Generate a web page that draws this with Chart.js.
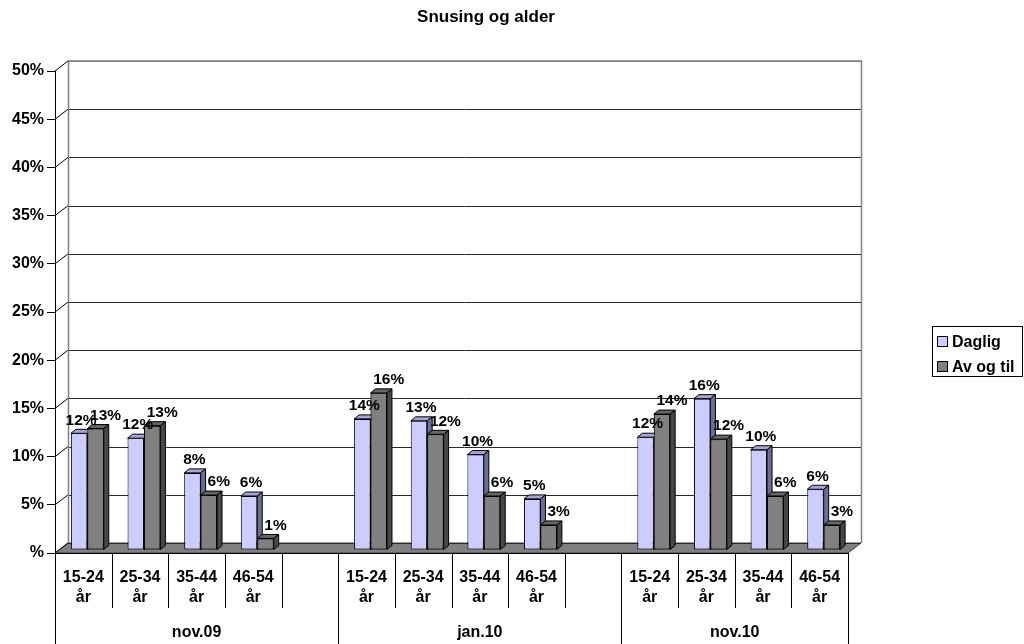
<!DOCTYPE html>
<html>
<head>
<meta charset="utf-8">
<title>Snusing og alder</title>
<script src="https://cdn.jsdelivr.net/npm/chart.js@4.4.1/dist/chart.umd.min.js"></script>
<style>
  html, body { margin: 0; padding: 0; background: #fff; }
  canvas { display: block; }
</style>
</head>
<body>
<canvas id="c" width="1024" height="644"></canvas>
<script>
// ---- data ----
const chartTitle = 'Snusing og alder';
const periods = ['nov.09', 'jan.10', 'nov.10'];
const ageBands = ['15-24 år', '25-34 år', '35-44 år', '46-54 år'];
const seriesNames = ['Daglig', 'Av og til'];
// share per age band, listed period by period
const daglig = [12.1, 11.6, 8.0, 5.6, 13.6, 13.4, 9.9, 5.3, 11.7, 15.7, 10.4, 6.3];
const avOgTil = [12.6, 12.9, 5.7, 1.2, 16.3, 12.0, 5.6, 2.6, 14.1, 11.5, 5.6, 2.6];
const yTickStep = 5;
const yMax = 50;

// ---- category layout: an empty slot after each period except the last ----
const categories = [];
const dagligSlots = [];
const avOgTilSlots = [];
const periodStarts = [];
periods.forEach((p, pi) => {
  periodStarts.push(categories.length);
  ageBands.forEach((a, ai) => {
    categories.push(a);
    dagligSlots.push(daglig[pi * ageBands.length + ai]);
    avOgTilSlots.push(avOgTil[pi * ageBands.length + ai]);
  });
  if (pi < periods.length - 1) {
    categories.push('');
    dagligSlots.push(null);
    avOgTilSlots.push(null);
  }
});

// ---- look ----
const FONT = '"Liberation Sans", Arial, Helvetica, sans-serif';
const faces = [
  { front: '#CCCCFF', top: '#A4A4D8', side: '#6B6B9C' },
  { front: '#808080', top: '#666666', side: '#474747' }
];
const WALL_DX = 13, WALL_DY = -10;   // depth of the back wall
const BAR_SHIFT_X = 4, BAR_SHIFT_Y = -3; // columns stand mid-depth
const BAR_DX = 5, BAR_DY = -4;       // column thickness

function px(v) { return Math.round(v) + 0.5; }

function drawBarFaces(ctx, el, f) {
  const p = el.getProps(['x', 'y', 'base', 'width'], true);
  if (!isFinite(p.y)) return;
  const l = p.x - p.width / 2, r = p.x + p.width / 2;
  ctx.lineWidth = 1;
  ctx.strokeStyle = '#000';
  // top
  ctx.beginPath();
  ctx.moveTo(l, p.y);
  ctx.lineTo(r, p.y);
  ctx.lineTo(r + BAR_DX, p.y + BAR_DY);
  ctx.lineTo(l + BAR_DX, p.y + BAR_DY);
  ctx.closePath();
  ctx.fillStyle = f.top;
  ctx.fill();
  ctx.stroke();
  // right side
  ctx.beginPath();
  ctx.moveTo(r, p.y);
  ctx.lineTo(r + BAR_DX, p.y + BAR_DY);
  ctx.lineTo(r + BAR_DX, p.base + BAR_DY);
  ctx.lineTo(r, p.base);
  ctx.closePath();
  ctx.fillStyle = f.side;
  ctx.fill();
  ctx.stroke();
}

const scenePlugin = {
  id: 'scene',
  beforeDatasetsDraw(chart) {
    const { ctx, chartArea: a, scales: { y } } = chart;
    const y0 = y.getPixelForValue(0);
    const yTop = y.getPixelForValue(yMax);
    ctx.save();
    // floor
    ctx.beginPath();
    ctx.moveTo(a.left, y0);
    ctx.lineTo(a.right, y0);
    ctx.lineTo(a.right + WALL_DX, y0 + WALL_DY);
    ctx.lineTo(a.left + WALL_DX, y0 + WALL_DY);
    ctx.closePath();
    ctx.fillStyle = '#808080';
    ctx.fill();
    ctx.strokeStyle = '#404040';
    ctx.lineWidth = 1;
    ctx.stroke();
    // back wall grid and the slanted links to the axis
    for (let v = 0; v <= yMax; v += yTickStep) {
      const yf = y.getPixelForValue(v);
      const yb = px(yf + WALL_DY);
      ctx.strokeStyle = v === yMax ? '#808080' : '#2a2a2a';
      ctx.beginPath();
      ctx.moveTo(a.left + WALL_DX, yb);
      ctx.lineTo(a.right + WALL_DX, yb);
      ctx.stroke();
      ctx.strokeStyle = '#000';
      ctx.beginPath();
      ctx.moveTo(a.left, yf);
      ctx.lineTo(a.left + WALL_DX, yf + WALL_DY);
      ctx.stroke();
    }
    // wall edges
    ctx.strokeStyle = '#808080';
    ctx.lineWidth = 1.5;
    ctx.beginPath();
    ctx.moveTo(px(a.left + WALL_DX), y0 + WALL_DY);
    ctx.lineTo(px(a.left + WALL_DX), yTop + WALL_DY);
    ctx.lineTo(px(a.right + WALL_DX), yTop + WALL_DY);
    ctx.lineTo(px(a.right + WALL_DX), y0 + WALL_DY);
    ctx.stroke();
    ctx.restore();
    // columns are drawn a little behind the front plane
    ctx.save();
    ctx.translate(BAR_SHIFT_X, BAR_SHIFT_Y);
  },
  afterDatasetsDraw(chart) {
    const { ctx } = chart;
    const m0 = chart.getDatasetMeta(0);
    const m1 = chart.getDatasetMeta(1);
    for (let i = 0; i < categories.length; i++) {
      if (dagligSlots[i] == null) continue;
      drawBarFaces(ctx, m0.data[i], faces[0]);
      m1.data[i].draw(ctx);
      drawBarFaces(ctx, m1.data[i], faces[1]);
    }
    ctx.restore();

    // value labels
    ctx.save();
    ctx.font = 'bold 15.5px ' + FONT;
    ctx.fillStyle = '#000';
    ctx.textAlign = 'center';
    ctx.textBaseline = 'middle';
    [m0, m1].forEach((meta, di) => {
      const vals = di === 0 ? dagligSlots : avOgTilSlots;
      meta.data.forEach((el, i) => {
        const v = vals[i];
        if (v == null) return;
        const p = el.getProps(['x', 'y'], true);
        const lx = p.x + BAR_SHIFT_X + (di === 0 ? 2 : 10);
        const ly = p.y + BAR_SHIFT_Y - 13;
        ctx.fillText(Math.round(v) + '%', lx, ly);
      });
    });
    ctx.restore();
  },
  afterDraw(chart) {
    const { ctx, chartArea: a, scales: { x } } = chart;
    const n = categories.length;
    const half = (x.getPixelForValue(1) - x.getPixelForValue(0)) / 2;
    const edge = i => (i < n ? x.getPixelForValue(i) - half : x.getPixelForValue(n - 1) + half);
    ctx.save();
    ctx.strokeStyle = '#000';
    ctx.lineWidth = 1;
    // category axis line
    ctx.beginPath();
    ctx.moveTo(a.left, px(a.bottom));
    ctx.lineTo(a.right, px(a.bottom));
    ctx.stroke();
    // dividers
    const groupEdges = periodStarts.concat([n]);
    for (let i = 0; i <= n; i++) {
      const ex = px(edge(i));
      const long = groupEdges.includes(i);
      ctx.beginPath();
      ctx.moveTo(ex, a.bottom);
      ctx.lineTo(ex, long ? 644 : a.bottom + 55);
      ctx.stroke();
    }
    // age band labels
    ctx.font = 'bold 16px ' + FONT;
    ctx.fillStyle = '#000';
    ctx.textAlign = 'center';
    ctx.textBaseline = 'middle';
    categories.forEach((c, i) => {
      if (!c) return;
      const lines = c.split(' ');
      const cx = x.getPixelForValue(i);
      lines.forEach((t, li) => ctx.fillText(t, cx, a.bottom + 25 + li * 20));
    });
    // period labels
    periods.forEach((p, pi) => {
      const cx = (edge(groupEdges[pi]) + edge(groupEdges[pi + 1])) / 2;
      ctx.fillText(p, cx, a.bottom + 80);
    });

    // title
    ctx.font = 'bold 17px ' + FONT;
    ctx.fillText(chartTitle, 486, 17);

    // legend
    ctx.strokeRect(932.5, 326.5, 90, 50);
    ctx.font = 'bold 16px ' + FONT;
    ctx.textAlign = 'left';
    seriesNames.forEach((name, si) => {
      const cy = 342 + si * 25;
      ctx.fillStyle = faces[si].front;
      ctx.fillRect(937.5, cy - 5.5, 10, 10);
      ctx.strokeRect(937.5, cy - 5.5, 10, 10);
      ctx.fillStyle = '#000';
      ctx.fillText(name, 952, cy + 1);
    });
    ctx.restore();
  }
};

new Chart(document.getElementById('c'), {
  type: 'bar',
  data: {
    labels: categories,
    datasets: [
      {
        label: seriesNames[0],
        data: dagligSlots,
        backgroundColor: faces[0].front,
        borderColor: '#000',
        borderWidth: 1,
        borderSkipped: false
      },
      {
        label: seriesNames[1],
        data: avOgTilSlots,
        backgroundColor: faces[1].front,
        borderColor: '#000',
        borderWidth: 1,
        borderSkipped: false
      }
    ]
  },
  options: {
    responsive: false,
    animation: false,
    devicePixelRatio: 1,
    layout: { padding: { top: 71, right: 176, bottom: 91, left: 0 } },
    datasets: { bar: { categoryPercentage: 0.58, barPercentage: 1 } },
    plugins: {
      legend: { display: false },
      title: { display: false },
      tooltip: { enabled: false }
    },
    scales: {
      x: { display: false },
      y: {
        min: 0,
        max: yMax,
        afterFit(s) { s.width = 55; },
        ticks: {
          stepSize: yTickStep,
          padding: 3,
          color: '#000',
          font: { family: FONT, size: 16, weight: 'bold' },
          callback: v => (v === 0 ? '%' : v + '%')
        },
        grid: { drawOnChartArea: false, drawTicks: true, tickLength: 8, color: '#000' },
        border: { display: true, color: '#000' }
      }
    }
  },
  plugins: [scenePlugin]
});
</script>
</body>
</html>
